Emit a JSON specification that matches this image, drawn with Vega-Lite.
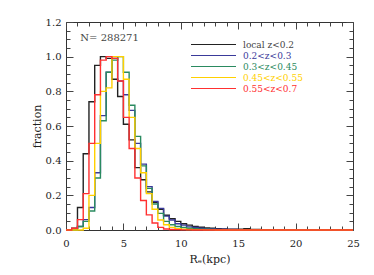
{
  "$schema": "https://vega.github.io/schema/vega-lite/v6.json",
  "width": 287,
  "height": 208,
  "autosize": {"type": "none"},
  "padding": {"left": 66, "top": 22, "right": 21, "bottom": 45},
  "background": "white",
  "config": {
    "view": {"stroke": "#333333", "strokeWidth": 1},
    "font": "DejaVu Serif"
  },
  "datasets": {
    "hist": [
      {"sample": "local z<0.2", "re": 0, "frac": 0},
      {"sample": "local z<0.2", "re": 0.5, "frac": 0.01},
      {"sample": "local z<0.2", "re": 1, "frac": 0.13},
      {"sample": "local z<0.2", "re": 1.5, "frac": 0.44},
      {"sample": "local z<0.2", "re": 2, "frac": 0.74},
      {"sample": "local z<0.2", "re": 2.5, "frac": 0.95},
      {"sample": "local z<0.2", "re": 3, "frac": 1.0},
      {"sample": "local z<0.2", "re": 3.5, "frac": 0.99},
      {"sample": "local z<0.2", "re": 4, "frac": 0.87},
      {"sample": "local z<0.2", "re": 4.5, "frac": 0.77},
      {"sample": "local z<0.2", "re": 5, "frac": 0.61},
      {"sample": "local z<0.2", "re": 5.5, "frac": 0.52},
      {"sample": "local z<0.2", "re": 6, "frac": 0.36},
      {"sample": "local z<0.2", "re": 6.5, "frac": 0.29},
      {"sample": "local z<0.2", "re": 7, "frac": 0.22},
      {"sample": "local z<0.2", "re": 7.5, "frac": 0.16},
      {"sample": "local z<0.2", "re": 8, "frac": 0.12},
      {"sample": "local z<0.2", "re": 8.5, "frac": 0.085},
      {"sample": "local z<0.2", "re": 9, "frac": 0.065},
      {"sample": "local z<0.2", "re": 9.5, "frac": 0.05},
      {"sample": "local z<0.2", "re": 10, "frac": 0.036},
      {"sample": "local z<0.2", "re": 10.5, "frac": 0.028},
      {"sample": "local z<0.2", "re": 11, "frac": 0.021},
      {"sample": "local z<0.2", "re": 11.5, "frac": 0.016},
      {"sample": "local z<0.2", "re": 12, "frac": 0.012},
      {"sample": "local z<0.2", "re": 12.5, "frac": 0.01},
      {"sample": "local z<0.2", "re": 13, "frac": 0.008},
      {"sample": "local z<0.2", "re": 13.5, "frac": 0.006},
      {"sample": "local z<0.2", "re": 14, "frac": 0.005},
      {"sample": "local z<0.2", "re": 14.5, "frac": 0.004},
      {"sample": "local z<0.2", "re": 15, "frac": 0.004},
      {"sample": "local z<0.2", "re": 15.5, "frac": 0.007},
      {"sample": "local z<0.2", "re": 16, "frac": 0.003},
      {"sample": "local z<0.2", "re": 17, "frac": 0.002},
      {"sample": "local z<0.2", "re": 19, "frac": 0.001},
      {"sample": "local z<0.2", "re": 25, "frac": 0.001},
      {"sample": "0.2<z<0.3", "re": 0, "frac": 0},
      {"sample": "0.2<z<0.3", "re": 1, "frac": 0.02},
      {"sample": "0.2<z<0.3", "re": 1.5, "frac": 0.06},
      {"sample": "0.2<z<0.3", "re": 2, "frac": 0.13},
      {"sample": "0.2<z<0.3", "re": 2.5, "frac": 0.33},
      {"sample": "0.2<z<0.3", "re": 3, "frac": 0.66},
      {"sample": "0.2<z<0.3", "re": 3.5, "frac": 0.91},
      {"sample": "0.2<z<0.3", "re": 4, "frac": 1.0},
      {"sample": "0.2<z<0.3", "re": 4.5, "frac": 0.86},
      {"sample": "0.2<z<0.3", "re": 5, "frac": 0.78},
      {"sample": "0.2<z<0.3", "re": 5.5, "frac": 0.69},
      {"sample": "0.2<z<0.3", "re": 6, "frac": 0.5},
      {"sample": "0.2<z<0.3", "re": 6.5, "frac": 0.38},
      {"sample": "0.2<z<0.3", "re": 7, "frac": 0.25},
      {"sample": "0.2<z<0.3", "re": 7.5, "frac": 0.165},
      {"sample": "0.2<z<0.3", "re": 8, "frac": 0.125},
      {"sample": "0.2<z<0.3", "re": 8.5, "frac": 0.08},
      {"sample": "0.2<z<0.3", "re": 9, "frac": 0.058},
      {"sample": "0.2<z<0.3", "re": 9.5, "frac": 0.036},
      {"sample": "0.2<z<0.3", "re": 10, "frac": 0.028},
      {"sample": "0.2<z<0.3", "re": 10.5, "frac": 0.018},
      {"sample": "0.2<z<0.3", "re": 11, "frac": 0.014},
      {"sample": "0.2<z<0.3", "re": 11.5, "frac": 0.01},
      {"sample": "0.2<z<0.3", "re": 12, "frac": 0.008},
      {"sample": "0.2<z<0.3", "re": 12.5, "frac": 0.006},
      {"sample": "0.2<z<0.3", "re": 13, "frac": 0.005},
      {"sample": "0.2<z<0.3", "re": 13.5, "frac": 0.004},
      {"sample": "0.2<z<0.3", "re": 14, "frac": 0.003},
      {"sample": "0.2<z<0.3", "re": 15, "frac": 0.002},
      {"sample": "0.2<z<0.3", "re": 17, "frac": 0.001},
      {"sample": "0.2<z<0.3", "re": 20, "frac": 0},
      {"sample": "0.2<z<0.3", "re": 25, "frac": 0},
      {"sample": "0.3<z<0.45", "re": 0, "frac": 0},
      {"sample": "0.3<z<0.45", "re": 1, "frac": 0.02},
      {"sample": "0.3<z<0.45", "re": 1.5, "frac": 0.05},
      {"sample": "0.3<z<0.45", "re": 2, "frac": 0.11},
      {"sample": "0.3<z<0.45", "re": 2.5, "frac": 0.3},
      {"sample": "0.3<z<0.45", "re": 3, "frac": 0.63},
      {"sample": "0.3<z<0.45", "re": 3.5, "frac": 0.91},
      {"sample": "0.3<z<0.45", "re": 4, "frac": 0.98},
      {"sample": "0.3<z<0.45", "re": 4.5, "frac": 1.0},
      {"sample": "0.3<z<0.45", "re": 5, "frac": 0.91},
      {"sample": "0.3<z<0.45", "re": 5.5, "frac": 0.72},
      {"sample": "0.3<z<0.45", "re": 6, "frac": 0.54},
      {"sample": "0.3<z<0.45", "re": 6.5, "frac": 0.37},
      {"sample": "0.3<z<0.45", "re": 7, "frac": 0.24},
      {"sample": "0.3<z<0.45", "re": 7.5, "frac": 0.15},
      {"sample": "0.3<z<0.45", "re": 8, "frac": 0.096},
      {"sample": "0.3<z<0.45", "re": 8.5, "frac": 0.05},
      {"sample": "0.3<z<0.45", "re": 9, "frac": 0.03},
      {"sample": "0.3<z<0.45", "re": 9.5, "frac": 0.02},
      {"sample": "0.3<z<0.45", "re": 10, "frac": 0.014},
      {"sample": "0.3<z<0.45", "re": 10.5, "frac": 0.01},
      {"sample": "0.3<z<0.45", "re": 11, "frac": 0.007},
      {"sample": "0.3<z<0.45", "re": 11.5, "frac": 0.005},
      {"sample": "0.3<z<0.45", "re": 12, "frac": 0.004},
      {"sample": "0.3<z<0.45", "re": 12.5, "frac": 0.003},
      {"sample": "0.3<z<0.45", "re": 13, "frac": 0.002},
      {"sample": "0.3<z<0.45", "re": 14, "frac": 0.001},
      {"sample": "0.3<z<0.45", "re": 15, "frac": 0},
      {"sample": "0.3<z<0.45", "re": 25, "frac": 0},
      {"sample": "0.45<z<0.55", "re": 0, "frac": 0},
      {"sample": "0.45<z<0.55", "re": 1.5, "frac": 0.01},
      {"sample": "0.45<z<0.55", "re": 2, "frac": 0.2},
      {"sample": "0.45<z<0.55", "re": 2.5, "frac": 0.5},
      {"sample": "0.45<z<0.55", "re": 3, "frac": 0.8},
      {"sample": "0.45<z<0.55", "re": 3.5, "frac": 0.82},
      {"sample": "0.45<z<0.55", "re": 4, "frac": 1.0},
      {"sample": "0.45<z<0.55", "re": 4.5, "frac": 1.0},
      {"sample": "0.45<z<0.55", "re": 5, "frac": 0.87},
      {"sample": "0.45<z<0.55", "re": 5.5, "frac": 0.65},
      {"sample": "0.45<z<0.55", "re": 6, "frac": 0.47},
      {"sample": "0.45<z<0.55", "re": 6.5, "frac": 0.33},
      {"sample": "0.45<z<0.55", "re": 7, "frac": 0.21},
      {"sample": "0.45<z<0.55", "re": 7.5, "frac": 0.12},
      {"sample": "0.45<z<0.55", "re": 8, "frac": 0.058},
      {"sample": "0.45<z<0.55", "re": 8.5, "frac": 0.03},
      {"sample": "0.45<z<0.55", "re": 9, "frac": 0.015},
      {"sample": "0.45<z<0.55", "re": 9.5, "frac": 0.008},
      {"sample": "0.45<z<0.55", "re": 10, "frac": 0.005},
      {"sample": "0.45<z<0.55", "re": 10.5, "frac": 0.003},
      {"sample": "0.45<z<0.55", "re": 11, "frac": 0.002},
      {"sample": "0.45<z<0.55", "re": 12, "frac": 0.001},
      {"sample": "0.45<z<0.55", "re": 13, "frac": 0},
      {"sample": "0.45<z<0.55", "re": 25, "frac": 0},
      {"sample": "0.55<z<0.7", "re": 0, "frac": 0},
      {"sample": "0.55<z<0.7", "re": 0.5, "frac": 0.01},
      {"sample": "0.55<z<0.7", "re": 1, "frac": 0.06},
      {"sample": "0.55<z<0.7", "re": 1.5, "frac": 0.21},
      {"sample": "0.55<z<0.7", "re": 2, "frac": 0.5},
      {"sample": "0.55<z<0.7", "re": 2.5, "frac": 0.78},
      {"sample": "0.55<z<0.7", "re": 3, "frac": 0.98},
      {"sample": "0.55<z<0.7", "re": 3.5, "frac": 1.0},
      {"sample": "0.55<z<0.7", "re": 4, "frac": 0.99},
      {"sample": "0.55<z<0.7", "re": 4.5, "frac": 0.86},
      {"sample": "0.55<z<0.7", "re": 5, "frac": 0.65},
      {"sample": "0.55<z<0.7", "re": 5.5, "frac": 0.47},
      {"sample": "0.55<z<0.7", "re": 6, "frac": 0.3},
      {"sample": "0.55<z<0.7", "re": 6.5, "frac": 0.17},
      {"sample": "0.55<z<0.7", "re": 7, "frac": 0.087},
      {"sample": "0.55<z<0.7", "re": 7.5, "frac": 0.04},
      {"sample": "0.55<z<0.7", "re": 8, "frac": 0.015},
      {"sample": "0.55<z<0.7", "re": 8.5, "frac": 0.006},
      {"sample": "0.55<z<0.7", "re": 9, "frac": 0.003},
      {"sample": "0.55<z<0.7", "re": 9.5, "frac": 0.002},
      {"sample": "0.55<z<0.7", "re": 10, "frac": 0.001},
      {"sample": "0.55<z<0.7", "re": 11, "frac": 0},
      {"sample": "0.55<z<0.7", "re": 25, "frac": 0}
    ],
    "note": [{"label": "N= 288271"}]
  },
  "layer": [
    {
      "data": {"name": "hist"},
      "mark": {"type": "line", "interpolate": "step-after", "strokeWidth": 1.4},
      "encoding": {
        "x": {
          "field": "re", "type": "quantitative",
          "scale": {"domain": [0, 25], "nice": false, "zero": false},
          "axis": {
            "orient": "bottom", "title": "Rₑ(kpc)",
            "values": [0,1,2,3,4,5,6,7,8,9,10,11,12,13,14,15,16,17,18,19,20,21,22,23,24,25],
            "labelExpr": "datum.value % 5 == 0 ? datum.label : ''",
            "tickSize": {"condition": {"test": "datum.value % 5 == 0", "value": -7}, "value": -4},
            "tickColor": "#444", "domain": false, "grid": false,
            "labelPadding": 15, "labelFontSize": 10, "labelColor": "#222", "labelFlush": false,
            "titleFontSize": 11, "titleFontWeight": "normal", "titleColor": "#222", "titlePadding": 5
          }
        },
        "y": {
          "field": "frac", "type": "quantitative",
          "scale": {"domain": [0, 1.2], "nice": false, "zero": false},
          "axis": {
            "orient": "left", "title": "fraction",
            "values": [0,0.05,0.1,0.15,0.2,0.25,0.3,0.35,0.4,0.45,0.5,0.55,0.6,0.65,0.7,0.75,0.8,0.85,0.9,0.95,1.0,1.05,1.1,1.15,1.2],
            "labelExpr": "abs(datum.value*5 - round(datum.value*5)) < 0.001 ? format(datum.value, '.1f') : ''",
            "tickSize": {"condition": {"test": "abs(datum.value*5 - round(datum.value*5)) < 0.001", "value": -7}, "value": -4},
            "tickColor": "#444", "domain": false, "grid": false,
            "labelPadding": 12, "labelFontSize": 10, "labelColor": "#222", "labelFlush": false,
            "titleFontSize": 11, "titleFontWeight": "normal", "titleColor": "#222", "titlePadding": 3
          }
        },
        "color": {
          "field": "sample", "type": "nominal",
          "scale": {
            "domain": ["local z<0.2", "0.2<z<0.3", "0.3<z<0.45", "0.45<z<0.55", "0.55<z<0.7"],
            "range": ["#222222", "#3a3a9a", "#2a8a60", "#ffd000", "#ff3030"]
          },
          "legend": {
            "title": null, "orient": "none", "legendX": 142, "legendY": 17,
            "padding": 0, "rowPadding": 0,
            "symbolType": "M-4.5,0H4.5", "symbolSize": 100, "symbolStrokeWidth": 1,
            "labelOffset": 24, "labelFontSize": 9, "labelFont": "DejaVu Serif",
            "labelColor": {"expr": "datum.label == 'local z<0.2' ? '#444444' : scale('color', datum.value)"}
          }
        }
      }
    },
    {
      "data": {"name": "note"},
      "mark": {"type": "text", "align": "left", "baseline": "middle", "fontSize": 10, "color": "#444"},
      "encoding": {
        "text": {"field": "label"},
        "x": {
          "datum": 1.25, "type": "quantitative",
          "axis": {
            "orient": "top", "title": null, "labels": false, "domain": false, "grid": false,
            "values": [0,1,2,3,4,5,6,7,8,9,10,11,12,13,14,15,16,17,18,19,20,21,22,23,24,25],
            "tickSize": {"condition": {"test": "datum.value % 5 == 0", "value": -7}, "value": -4},
            "tickColor": "#444"
          }
        },
        "y": {
          "datum": 1.108, "type": "quantitative",
          "axis": {
            "orient": "right", "title": null, "labels": false, "domain": false, "grid": false,
            "values": [0,0.05,0.1,0.15,0.2,0.25,0.3,0.35,0.4,0.45,0.5,0.55,0.6,0.65,0.7,0.75,0.8,0.85,0.9,0.95,1.0,1.05,1.1,1.15,1.2],
            "tickSize": {"condition": {"test": "abs(datum.value*5 - round(datum.value*5)) < 0.001", "value": -7}, "value": -4},
            "tickColor": "#444"
          }
        }
      }
    }
  ],
  "resolve": {"axis": {"x": "independent", "y": "independent"}}
}
